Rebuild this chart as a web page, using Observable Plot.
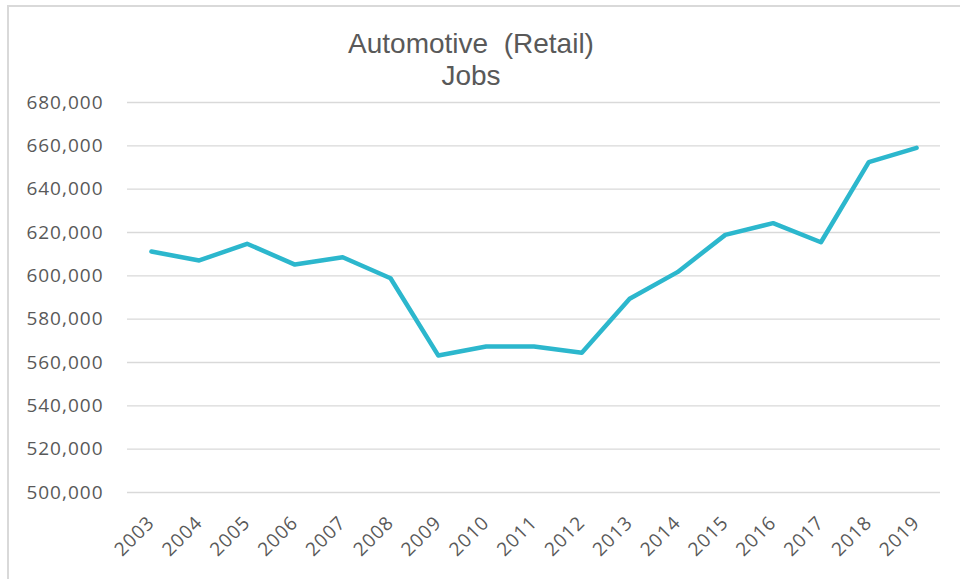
<!DOCTYPE html>
<html>
<head>
<meta charset="utf-8">
<script src="https://cdn.jsdelivr.net/npm/d3@7"></script>
<script src="https://cdn.jsdelivr.net/npm/@observablehq/plot@0.6"></script>
<style>
  html, body { margin: 0; padding: 0; background: #fff; }
  #wrap { position: relative; width: 960px; height: 579px; overflow: hidden; background: #fff; }
  #frame { position: absolute; left: 7px; top: 5px; width: 1000px; height: 1000px;
           border-top: 2px solid #d9d9d9; border-left: 2px solid #d9d9d9; box-sizing: border-box; }
  #title { position: relative; width: 942px; height: 90px; box-sizing: border-box; padding-top: 28px;
           text-align: center; font-family: "Liberation Sans", Arial, sans-serif; font-size: 28px;
           line-height: 32px; color: #595959; white-space: pre; }
  #chart { position: relative; }
  #chart g[aria-label="y-axis tick label"] text { letter-spacing: 1px; }
  #chart g[aria-label="x-axis tick label"] text { letter-spacing: 1px; }
</style>
</head>
<body>
<div id="wrap">
  <div id="frame"></div>
  <div id="title">Automotive  (Retail)
Jobs</div>
  <div id="chart"></div>
</div>
<script>
const years = ["2003","2004","2005","2006","2007","2008","2009","2010","2011","2012","2013","2014","2015","2016","2017","2018","2019"];
const jobs = [611200, 607100, 614800, 605200, 608600, 598900, 563200, 567400, 567400, 564500, 589400, 601700, 618900, 624300, 615500, 652500, 659100];
const yTicks = [500000, 520000, 540000, 560000, 580000, 600000, 620000, 640000, 660000, 680000];

const data = years.map((year, i) => ({year, jobs: jobs[i]}));

const chart = Plot.plot({
  width: 960,
  height: 489,
  marginTop: 12,
  marginBottom: 87,
  marginLeft: 127,
  marginRight: 20,
  style: {fontFamily: "'Open Sans', sans-serif", fontSize: "19px", color: "#595959", background: "transparent", overflow: "visible"},
  x: {type: "point", domain: years, padding: 0.5, round: false, label: null, tickSize: 0, tickRotate: -45, tickPadding: 27},
  y: {domain: [500000, 680000], ticks: yTicks, tickFormat: d3.format(","), label: null, tickSize: 0, tickPadding: 24},
  marks: [
    Plot.ruleY(yTicks, {stroke: "#d9d9d9", strokeWidth: 1.3}),
    Plot.line(data, {x: "year", y: "jobs", stroke: "#2cb7cd", strokeWidth: 4.5, strokeLinejoin: "round", strokeLinecap: "round"})
  ]
});
document.getElementById("chart").appendChild(chart);
</script>
</body>
</html>
